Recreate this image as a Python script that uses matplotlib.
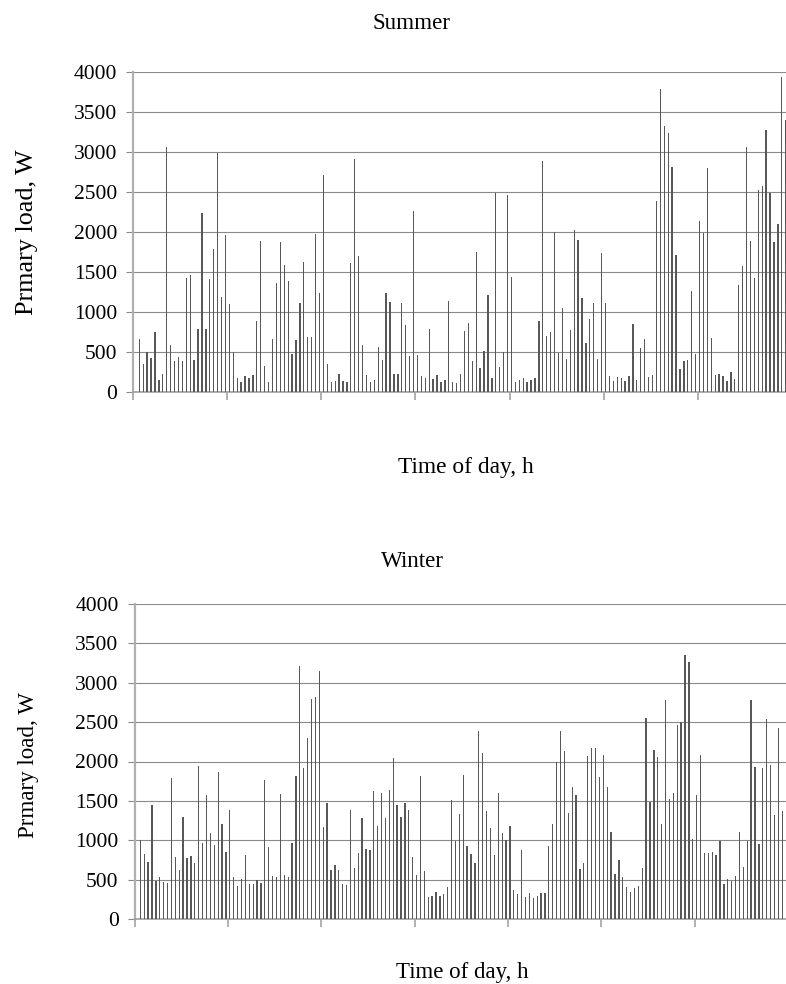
import numpy as np
import matplotlib
matplotlib.use("Agg")
import matplotlib.pyplot as plt

plt.rcParams['font.family'] = ['Liberation Serif', 'DejaVu Serif']

# hourly slots (slot 0 empty)
summer = [0, 660, 347, 497, 422, 756, 146, 221, 3060, 585, 384, 434, 384, 1424, 1461, 397,
          785, 2238, 785, 1411, 1787, 2989, 1186, 1962, 1098, 497, 171, 121, 196, 171, 209,
          885, 1887, 321, 121, 660, 1361, 1875, 1587, 1386, 472, 647, 1110, 1624, 685, 685,
          1975, 1236, 2714, 347, 121, 134, 221, 134, 121, 1612, 2914, 1699, 585, 209, 121,
          146, 559, 397, 1236, 1123, 221, 221, 1110, 835, 447, 2263, 459, 196, 171, 785, 159,
          209, 121, 146, 1136, 121, 109, 221, 760, 860, 384, 1749, 296, 509, 1211, 171, 2488,
          309, 497, 2463, 1436, 121, 146, 171, 121, 146, 171, 885, 2889, 697, 747, 2000, 484,
          1048, 409, 772, 2025, 1900, 1173, 610, 910, 1110, 409, 1737, 1110, 196, 134, 184,
          171, 134, 196, 848, 146, 547, 660, 184, 209, 2388, 3791, 3327, 3240, 2814, 1712,
          284, 384, 397, 1261, 472, 2138, 1987, 2801, 672, 209, 221, 196, 134, 246, 159, 1336,
          1574, 3064, 1887, 1424, 2526, 2576, 3277, 2488, 1875, 2100, 3941, 3403]

winter = [0, 1003, 825, 724, 1448, 483, 533, 470, 457, 1790, 787, 622, 1295, 775, 800, 711,
          1943, 965, 1575, 1092, 940, 1867, 1206, 851, 1384, 533, 419, 508, 813, 444, 444,
          495, 457, 1765, 914, 546, 533, 1587, 559, 533, 965, 1816, 3213, 1918, 2298, 2794,
          2819, 3149, 1168, 1473, 622, 686, 622, 444, 432, 1384, 648, 838, 1283, 889, 876,
          1625, 1181, 1600, 1283, 1638, 2045, 1448, 1295, 1473, 1384, 787, 559, 1816, 610,
          279, 292, 343, 292, 317, 406, 1511, 991, 1333, 1829, 927, 825, 711, 2387, 2108,
          1371, 1156, 813, 1600, 1092, 1003, 1181, 368, 317, 876, 279, 330, 267, 292, 330,
          330, 927, 1206, 1994, 2387, 2133, 1346, 1676, 1575, 635, 711, 2070, 2172, 2172,
          1803, 2083, 1676, 1105, 571, 749, 533, 406, 343, 394, 419, 648, 2552, 1486, 2146,
          2057, 1206, 2781, 1524, 1600, 2464, 2502, 3353, 3264, 1016, 1575, 2083, 838, 838,
          851, 813, 991, 444, 508, 483, 546, 1105, 660, 991, 2781, 1930, 952, 1918, 2540,
          1956, 1321, 2425, 1371]

n_slots = 168
yticks = [0, 500, 1000, 1500, 2000, 2500, 3000, 3500, 4000]
ylabel = "Prmary load, W"
xlabel = "Time of day, h"

W, H = 786, 984
fig = plt.figure(figsize=(W / 100, H / 100), dpi=100)


def px(x0, y_top, x1, y_bot):
    return [x0 / W, 1 - y_bot / H, (x1 - x0) / W, (y_bot - y_top) / H]


def draw(ax, data):
    x = np.arange(len(data))
    ax.bar(x, data, width=0.33, color='#585858', linewidth=0, zorder=3)
    ax.set_xlim(-0.5, n_slots - 0.5)
    ax.set_ylim(0, 4000)
    ax.set_yticks(yticks)
    ax.set_yticklabels([str(v) for v in yticks], fontsize=15.5)
    ax.set_xticks(np.arange(-0.5, n_slots, 24))
    ax.set_xticklabels([])
    ax.yaxis.grid(True, color='#8a8a8a', linewidth=0.8)
    ax.set_axisbelow(True)
    for s in ['top', 'right']:
        ax.spines[s].set_visible(False)
    ax.spines['left'].set_color('#b0b0b0')
    ax.spines['left'].set_linewidth(1.6)
    ax.spines['bottom'].set_color('#a0a0a0')
    ax.spines['bottom'].set_linewidth(1.2)
    ax.tick_params(axis='y', direction='out', length=5, width=0.8, color='#8a8a8a', pad=6.5)
    ax.tick_params(axis='x', direction='out', length=5.5, width=1.4, color='#b0b0b0')


ax1 = fig.add_axes(px(133.4, 72, 791.6, 392))
draw(ax1, summer)
ax2 = fig.add_axes(px(134.5, 604, 788.1, 919))
draw(ax2, winter)

fig.text(411 / W, 1 - 29 / H, "Summer", ha='center', va='baseline', fontsize=16.6)
fig.text(466 / W, 1 - 473 / H, xlabel, ha='center', va='baseline', fontsize=16.8)
fig.text(26.5 / W, 1 - 231.7 / H, ylabel, ha='center', va='center', rotation=90, fontsize=18.8)

fig.text(412.5 / W, 1 - 567 / H, "Winter", ha='center', va='baseline', fontsize=16.6)
fig.text(462.5 / W, 1 - 978 / H, xlabel, ha='center', va='baseline', fontsize=16.5)
fig.text(29 / W, 1 - 765 / H, ylabel, ha='center', va='center', rotation=90, fontsize=16.6)

fig.savefig("out.png", dpi=100)
